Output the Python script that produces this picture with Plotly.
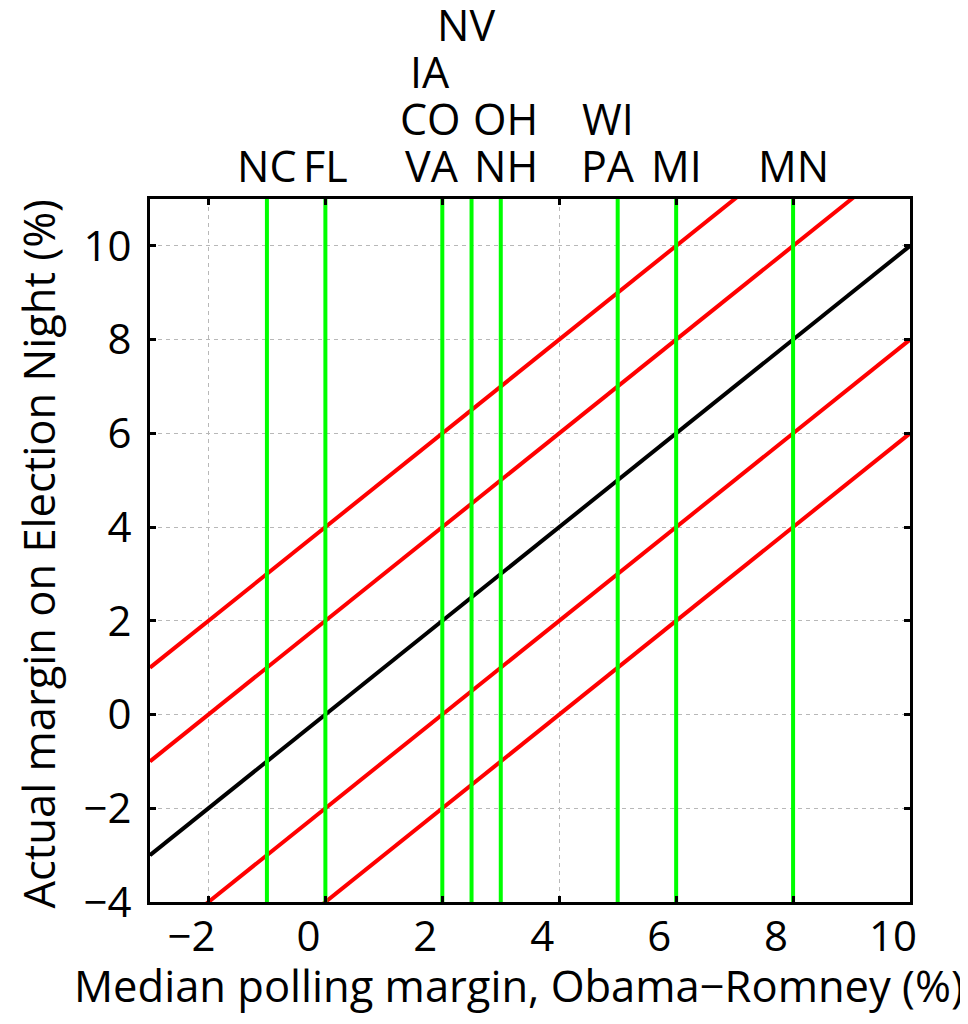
import plotly.graph_objects as go

# ---- data ----
states = ["NC", "FL", "VA", "CO", "IA", "NV", "OH", "NH", "WI", "PA", "MI", "MN"]
poll_margin = [-1, 0, 2, 2, 2, 2.5, 3, 3, 5, 5, 6, 8]
label_row = [0, 0, 0, 1, 2, 3, 1, 0, 1, 0, 0, 0]
line_x = [-3, 10]
red_offsets = [4, 2, -2, -4]
x_ticks = [-2, 0, 2, 4, 6, 8, 10]
y_ticks = [-4, -2, 0, 2, 4, 6, 8, 10]
x_title = "Median polling margin, Obama\u2212Romney (%)"
y_title = "Actual margin on Election Night (%)"

FONT = "Open Sans"
FS_TICK = 42
FS_TITLE = 43.5
FS_LABEL = 43

fig = go.Figure()

# red offset lines
for off in red_offsets:
    fig.add_trace(go.Scatter(x=line_x, y=[v + off for v in line_x], mode="lines",
                             line=dict(color="#ff0000", width=4), hoverinfo="skip"))
# black identity line
fig.add_trace(go.Scatter(x=line_x, y=line_x, mode="lines",
                         line=dict(color="#000000", width=4), hoverinfo="skip"))
# green state lines
seen = []
for m in poll_margin:
    if m in seen:
        continue
    seen.append(m)
    fig.add_trace(go.Scatter(x=[m, m], y=[-4, 11], mode="lines",
                             line=dict(color="#00ff00", width=4), hoverinfo="skip"))

# state labels
label_xshift = {"VA": -10, "CO": -12, "IA": -12, "NV": -6, "OH": 5, "NH": 5,
                "WI": -10, "PA": -10}
for s, m, r in zip(states, poll_margin, label_row):
    fig.add_annotation(x=m, xref="x", y=1, yref="paper", yanchor="bottom",
                       text=s, showarrow=False, xanchor="center",
                       yshift=2 + 47 * r, xshift=label_xshift.get(s, 0),
                       font=dict(family=FONT, size=FS_LABEL, color="black"))

# axis titles
fig.add_annotation(x=0.5, xref="paper", y=0, yref="paper", yanchor="top", xanchor="center",
                   text=x_title, showarrow=False, xshift=-11, yshift=-52,
                   font=dict(family=FONT, size=FS_TITLE, color="black"))
fig.add_annotation(x=0, xref="paper", y=0.5, yref="paper", yanchor="middle", xanchor="center",
                   text=y_title, showarrow=False, textangle=-90, xshift=-112, yshift=-4,
                   font=dict(family=FONT, size=FS_TITLE, color="black"))

def fmt(v):
    return ("\u2212" + str(-v)) if v < 0 else str(v)

axis_common = dict(showline=True, linecolor="black", linewidth=3, mirror="allticks",
                   ticks="inside", ticklen=6, tickwidth=3, tickcolor="black",
                   showgrid=True, gridcolor="#b8b8b8", gridwidth=1.3, griddash="4px,4px",
                   zeroline=False, tickfont=dict(family=FONT, size=FS_TICK, color="black"))

fig.update_xaxes(range=line_x, tickvals=x_ticks, ticktext=[fmt(v) for v in x_ticks],
                 ticklabelshift=-17, ticklabelstandoff=-4, **axis_common)
fig.update_yaxes(range=[-4, 11], tickvals=y_ticks, ticktext=[fmt(v) for v in y_ticks],
                 ticklabelstandoff=7, **axis_common)

fig.update_layout(width=960, height=1016, showlegend=False,
                  plot_bgcolor="white", paper_bgcolor="white",
                  margin=dict(l=142, r=58, t=191, b=122, autoexpand=False),
                  font=dict(family=FONT, size=FS_TICK, color="black"))

fig.write_html("out.html")
